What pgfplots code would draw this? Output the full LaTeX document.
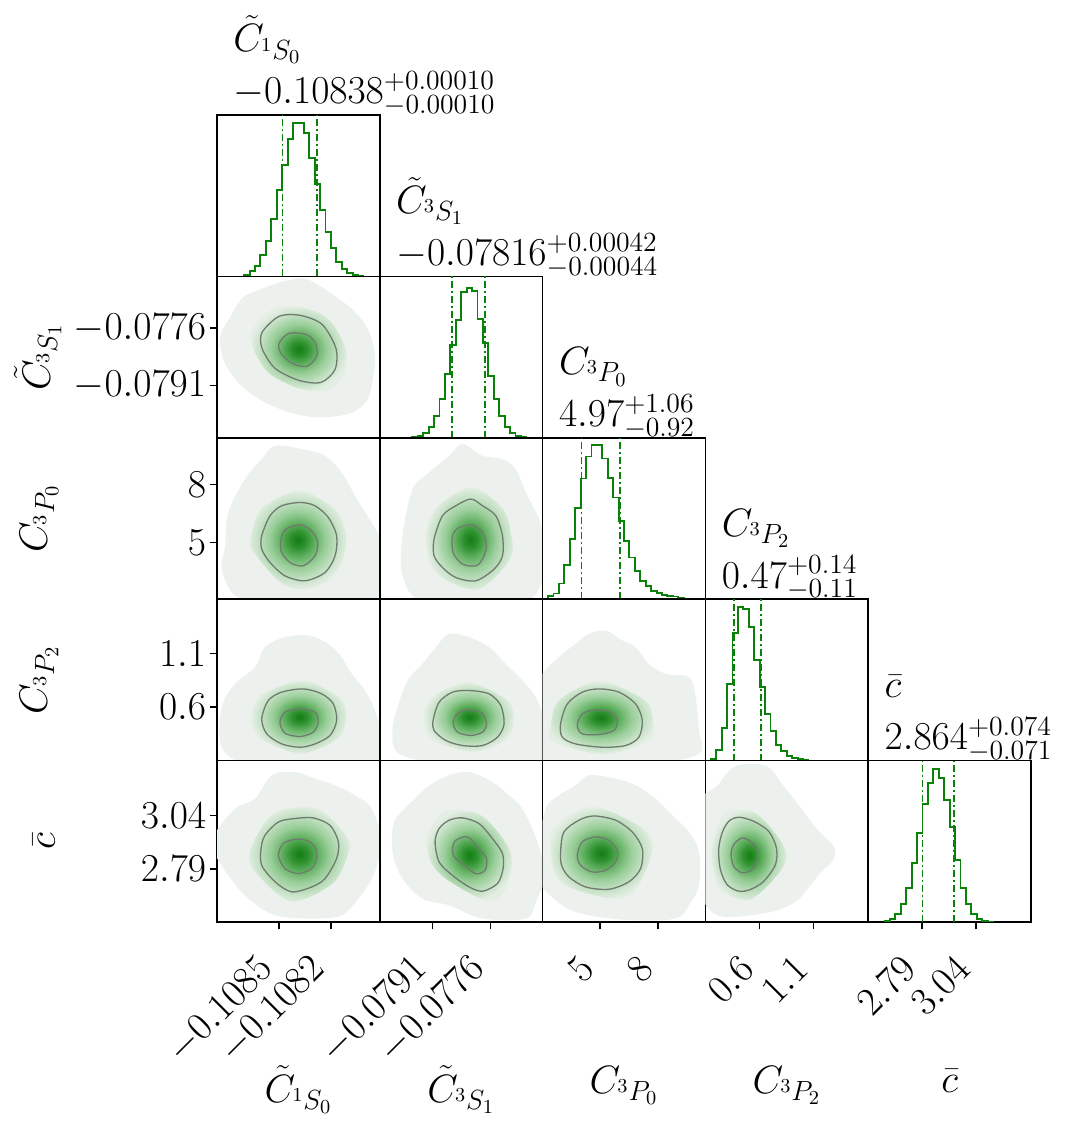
\documentclass[border=0pt]{standalone}
\usepackage{fix-cm}
\usepackage{pgfplots}
\pgfplotsset{compat=1.18}

\definecolor{histgreen}{RGB}{10,130,10}
\definecolor{cloudc}{RGB}{237,241,237}
\definecolor{contourgrey}{RGB}{112,122,112}
\definecolor{kd0}{RGB}{20,125,20}
\definecolor{kd1}{RGB}{45,145,45}
\definecolor{kd2}{RGB}{100,178,100}
\definecolor{kd3}{RGB}{152,205,152}
\definecolor{kd4}{RGB}{196,225,196}
\definecolor{kd5}{RGB}{228,238,228}
\pgfdeclareradialshading{kde}{\pgfpoint{0bp}{0bp}}{color(0bp)=(kd0); color(4bp)=(kd1); color(9bp)=(kd2); color(14bp)=(kd3); color(20bp)=(kd4); color(25bp)=(kd5); color(50bp)=(kd5)}

\newcommand\lab{\fontsize{19.8}{23}\selectfont}

\pgfplotsset{
  panel/.style={
    width=81.4pt, height=80.7pt, scale only axis, anchor=south west,
    axis line style={line width=0.8pt},
    tick style={black, line width=0.8pt},
    major tick length=3.75pt, tick align=outside,
    xtick=\empty, ytick=\empty,
    xtick pos=left, ytick pos=left,
    scaled x ticks=false, scaled y ticks=false,
    tick label style={font=\lab},
    xticklabel style={xshift=-6pt, yshift=-16.5pt, rotate=45, anchor=east, inner sep=0pt},
    yticklabel style={xshift=-1.5pt, inner sep=0pt},
  },
  hpanel/.style={panel, ymin=0, ymax=161.4},
  cloud/.style={draw=none, fill=cloudc, smooth cycle, tension=0.55},
  halo/.style={draw=none, shade, shading=kde, smooth cycle},
  cline/.style={draw=contourgrey, line width=0.65pt, smooth cycle},
  hist/.style={const plot, color=histgreen, line width=0.95pt},
  qline/.style={histgreen, draw=histgreen, line width=0.8pt, dash pattern=on 3.5pt off 1.5pt on 1pt off 1.5pt},
  ttl/.style 2 args={after end axis/.append code={
    \path (rel axis cs:0,1) ++(8pt,31.5pt) node[anchor=base west,inner sep=0pt,font=\lab]{#1};
    \path (rel axis cs:0,1) ++(8pt,5.5pt) node[anchor=base west,inner sep=0pt,font=\lab]{#2};}},
  xlab/.style 2 args={after end axis/.append code={
    \path (rel axis cs:0.5,0) ++(0,-#2) node[anchor=base,inner sep=0pt,font=\lab]{#1};}},
  ylab/.style 2 args={after end axis/.append code={
    \path (rel axis cs:0,0.5) ++(-#2,0) node[rotate=90,anchor=base,inner sep=0pt,font=\lab]{#1};}},
}

% parameter ranges
\def\Aa{-0.108858}\def\Ab{-0.107919}
\def\Ba{-0.08047}\def\Bb{-0.07625}
\def\Ca{2.06}\def\Cb{10.43}
\def\Da{0.097}\def\Db{1.606}
\def\Ea{2.541}\def\Eb{3.296}

\begin{document}
\begin{tikzpicture}
\useasboundingbox (0,0) rectangle (533pt,563.5pt);

% ---------------- row 1 ----------------
\begin{axis}[hpanel, at={(108.5pt,425.3pt)}, xmin=\Aa, xmax=\Ab,
  ttl={$\tilde{C}_{{}^1S_0}$}{$-0.10838^{+0.00010}_{-0.00010}$}]
\addplot[qline] coordinates {(-0.10848,0) (-0.10848,161.4)};
\addplot[qline] coordinates {(-0.10828,0) (-0.10828,161.4)};
\addplot[hist] coordinates {(-0.1087015,0) (-0.1087015,1.3) (-0.1086702,5.3) (-0.1086389,10.3) (-0.1086076,21) (-0.1085763,35.3) (-0.108545,57) (-0.1085137,86) (-0.1084824,111) (-0.1084511,137.3) (-0.1084198,153.7) (-0.1083885,153.3) (-0.1083572,143.3) (-0.1083259,118.3) (-0.1082946,92) (-0.1082633,66.7) (-0.108232,44.3) (-0.1082007,28.7) (-0.1081694,14.3) (-0.1081381,7.7) (-0.1081068,3.3) (-0.1080755,1.3) (-0.1080442,0.3) (-0.1080129,0)};
\end{axis}

% ---------------- row 2 ----------------
\begin{axis}[panel, at={(108.5pt,344.6pt)}, xmin=\Aa, xmax=\Ab, ymin=\Ba, ymax=\Bb,
  ytick={-0.0791,-0.0776}, yticklabels={$-0.0791$,$-0.0776$},
  ylab={$\tilde{C}_{{}^3S_1}$}{83.5pt}]
\addplot[cloud] coordinates {(-0.108783,-0.077322) (-0.108708,-0.076799) (-0.108593,-0.076564) (-0.108454,-0.076355) (-0.108322,-0.076355) (-0.108091,-0.077060) (-0.107993,-0.077583) (-0.107947,-0.078263) (-0.107958,-0.078890) (-0.107993,-0.079491) (-0.108091,-0.079831) (-0.108264,-0.079936) (-0.108420,-0.079831) (-0.108570,-0.079570) (-0.108708,-0.079152) (-0.108812,-0.078524) (-0.108841,-0.077845)};
\addplot[halo] coordinates {(-0.108650,-0.077609) (-0.108529,-0.077086) (-0.108376,-0.077060) (-0.108218,-0.077348) (-0.108117,-0.078132) (-0.108125,-0.078812) (-0.108224,-0.079243) (-0.108385,-0.079178) (-0.108558,-0.078786) (-0.108650,-0.078132)};
\addplot[cline] coordinates {(-0.108598,-0.077714) (-0.108500,-0.077296) (-0.108379,-0.077269) (-0.108252,-0.077505) (-0.108172,-0.078132) (-0.108177,-0.078681) (-0.108258,-0.079021) (-0.108385,-0.078969) (-0.108523,-0.078655) (-0.108598,-0.078132)};
\addplot[cline] coordinates {(-0.108500,-0.078001) (-0.108443,-0.077740) (-0.108345,-0.077766) (-0.108293,-0.077975) (-0.108281,-0.078315) (-0.108339,-0.078603) (-0.108425,-0.078524) (-0.108489,-0.078263)};
\end{axis}

\begin{axis}[hpanel, at={(189.9pt,344.6pt)}, xmin=\Ba, xmax=\Bb,
  ttl={$\tilde{C}_{{}^3S_1}$}{$-0.07816^{+0.00042}_{-0.00044}$}]
\addplot[qline] coordinates {(-0.07860,0) (-0.07860,161.4)};
\addplot[qline] coordinates {(-0.07774,0) (-0.07774,161.4)};
\addplot[hist] coordinates {(-0.0796258,0) (-0.0796258,0.7) (-0.0794851,1.9) (-0.0793444,4.8) (-0.0792037,10.7) (-0.079063,21.6) (-0.0789223,39) (-0.0787816,64) (-0.0786409,93) (-0.0785002,118) (-0.0783595,146) (-0.0782188,150) (-0.0780781,147) (-0.0779374,119) (-0.0777967,95) (-0.077656,62) (-0.0775153,39) (-0.0773746,21.6) (-0.0772339,10.7) (-0.0770932,4.8) (-0.0769525,1.9) (-0.0768118,0.7) (-0.0766711,0)};
\end{axis}

% ---------------- row 3 ----------------
\begin{axis}[panel, at={(108.5pt,263.9pt)}, xmin=\Aa, xmax=\Ab, ymin=\Ca, ymax=\Cb,
  ytick={5,8}, yticklabels={$5$,$8$},
  ylab={$C_{{}^3P_0}$}{85pt}]
\addplot[cloud] coordinates {(-0.108812,4.829) (-0.108793,6.556) (-0.108697,8.288) (-0.108600,9.325) (-0.108523,10.015) (-0.108369,9.844) (-0.108235,9.497) (-0.108139,8.630) (-0.108062,7.422) (-0.107966,6.037) (-0.107906,5.000) (-0.107906,3.621) (-0.107935,1.873) (-0.108293,1.873) (-0.108581,1.873) (-0.108754,2.236) (-0.108831,3.621)};
\addplot[halo] coordinates {(-0.108656,5.503) (-0.108598,6.800) (-0.108379,7.681) (-0.108177,6.696) (-0.108114,5.503) (-0.108128,4.207) (-0.108200,3.118) (-0.108345,2.599) (-0.108489,2.910) (-0.108656,4.642)};
\addplot[cline] coordinates {(-0.108600,5.348) (-0.108552,6.385) (-0.108485,6.904) (-0.108379,7.075) (-0.108293,6.904) (-0.108216,6.297) (-0.108168,5.348) (-0.108177,4.311) (-0.108235,3.444) (-0.108350,3.014) (-0.108466,3.273) (-0.108552,3.963) (-0.108600,4.658)};
\addplot[cline] coordinates {(-0.108485,5.348) (-0.108456,5.726) (-0.108379,5.918) (-0.108312,5.607) (-0.108277,5.000) (-0.108293,4.311) (-0.108360,3.792) (-0.108437,3.963) (-0.108489,4.570)};
\end{axis}

\begin{axis}[panel, at={(189.9pt,263.9pt)}, xmin=\Ba, xmax=\Bb, ymin=\Ca, ymax=\Cb]
\addplot[cloud] coordinates {(-0.079882,5.348) (-0.079622,7.770) (-0.079192,8.630) (-0.078674,9.497) (-0.078326,10.103) (-0.077808,9.497) (-0.077290,9.325) (-0.076945,8.807) (-0.076686,7.593) (-0.076341,6.214) (-0.076193,4.829) (-0.076193,3.273) (-0.076686,1.873) (-0.077808,1.873) (-0.079363,1.873) (-0.079882,3.273)};
\addplot[halo] coordinates {(-0.079288,5.265) (-0.079018,6.774) (-0.078098,7.858) (-0.077287,6.774) (-0.077074,5.477) (-0.077074,4.181) (-0.077935,2.558) (-0.079018,3.429)};
\addplot[cline] coordinates {(-0.079063,5.177) (-0.078845,6.385) (-0.078500,6.904) (-0.078111,7.251) (-0.077808,6.904) (-0.077463,6.385) (-0.077290,5.348) (-0.077290,4.311) (-0.077507,3.621) (-0.077982,3.014) (-0.078500,3.185) (-0.078845,3.704) (-0.079063,4.311)};
\addplot[cline] coordinates {(-0.078586,5.348) (-0.078415,5.778) (-0.078067,5.903) (-0.077808,5.519) (-0.077704,4.829) (-0.077808,4.139) (-0.077982,3.792) (-0.078326,3.880) (-0.078570,4.482)};
\end{axis}

\begin{axis}[hpanel, at={(271.3pt,263.9pt)}, xmin=\Ca, xmax=\Cb,
  ttl={$C_{{}^3P_0}$}{$4.97^{+1.06}_{-0.92}$}]
\addplot[qline] coordinates {(4.05,0) (4.05,161.4)};
\addplot[qline] coordinates {(6.03,0) (6.03,161.4)};
\addplot[hist] coordinates {(2.339,0) (2.339,3.3) (2.618,5.7) (2.897,15.7) (3.176,34) (3.455,60) (3.734,91.3) (4.013,120.7) (4.292,142.7) (4.571,154) (4.85,154.3) (5.129,140.7) (5.408,121) (5.687,101.7) (5.966,78.3) (6.245,58.3) (6.524,41.7) (6.803,28.3) (7.082,18.3) (7.361,13.3) (7.64,8.3) (7.919,6) (8.198,4.3) (8.477,3.3) (8.756,2.7) (9.035,1.7) (9.314,0)};
\end{axis}

% ---------------- row 4 ----------------
\begin{axis}[panel, at={(108.5pt,183.2pt)}, xmin=\Aa, xmax=\Ab, ymin=\Da, ymax=\Db,
  ytick={0.6,1.1}, yticklabels={$0.6$,$1.1$},
  ylab={$C_{{}^3P_2}$}{85pt}]
\addplot[cloud] coordinates {(-0.108831,0.596) (-0.108754,0.814) (-0.108639,0.970) (-0.108581,1.157) (-0.108466,1.251) (-0.108331,1.267) (-0.108216,1.188) (-0.108139,1.064) (-0.108081,0.908) (-0.108004,0.752) (-0.107947,0.565) (-0.107906,0.316) (-0.107935,0.063) (-0.108293,0.063) (-0.108678,0.063) (-0.108831,0.222)};
\addplot[halo] coordinates {(-0.108656,0.493) (-0.108608,0.708) (-0.108356,0.843) (-0.108139,0.667) (-0.108115,0.474) (-0.108163,0.298) (-0.108379,0.162) (-0.108619,0.317)};
\addplot[cline] coordinates {(-0.108600,0.487) (-0.108562,0.659) (-0.108485,0.737) (-0.108360,0.767) (-0.108254,0.721) (-0.108187,0.627) (-0.108168,0.472) (-0.108206,0.332) (-0.108293,0.253) (-0.108379,0.222) (-0.108485,0.253) (-0.108571,0.347)};
\addplot[cline] coordinates {(-0.108495,0.456) (-0.108466,0.550) (-0.108379,0.580) (-0.108293,0.550) (-0.108274,0.456) (-0.108303,0.363) (-0.108379,0.322) (-0.108466,0.353)};
\end{axis}

\begin{axis}[panel, at={(189.9pt,183.2pt)}, xmin=\Ba, xmax=\Bb, ymin=\Da, ymax=\Db]
\addplot[cloud] coordinates {(-0.080011,0.596) (-0.079752,0.846) (-0.079363,1.001) (-0.079018,1.157) (-0.078674,1.282) (-0.078155,1.251) (-0.077637,1.157) (-0.077204,1.001) (-0.076771,0.846) (-0.076426,0.690) (-0.076193,0.440) (-0.076193,0.063) (-0.078674,0.063) (-0.079970,0.160) (-0.080141,0.378)};
\addplot[halo] coordinates {(-0.079319,0.474) (-0.079125,0.688) (-0.078153,0.824) (-0.077126,0.649) (-0.077020,0.434) (-0.077233,0.278) (-0.078065,0.181) (-0.079104,0.290)};
\addplot[cline] coordinates {(-0.079088,0.472) (-0.078933,0.643) (-0.078586,0.737) (-0.078155,0.752) (-0.077637,0.721) (-0.077334,0.612) (-0.077248,0.440) (-0.077419,0.316) (-0.077808,0.238) (-0.078326,0.238) (-0.078759,0.285) (-0.079063,0.378)};
\addplot[cline] coordinates {(-0.078570,0.456) (-0.078415,0.550) (-0.078111,0.571) (-0.077808,0.534) (-0.077704,0.440) (-0.077808,0.363) (-0.078111,0.332) (-0.078456,0.363)};
\end{axis}

\begin{axis}[panel, at={(271.3pt,183.2pt)}, xmin=\Ca, xmax=\Cb, ymin=\Da, ymax=\Db]
\addplot[cloud] coordinates {(1.906,0.846) (2.898,1.064) (3.757,1.188) (4.440,1.282) (5.299,1.313) (6.157,1.220) (6.841,1.157) (7.525,1.001) (8.383,0.908) (9.581,0.877) (9.926,0.690) (10.095,0.378) (10.095,0.160) (7.525,0.063) (4.101,0.063) (1.906,0.063) (1.906,0.378)};
\addplot[halo] coordinates {(2.482,0.429) (2.913,0.663) (4.944,0.838) (7.304,0.663) (7.736,0.469) (7.515,0.274) (5.165,0.157) (2.595,0.274)};
\addplot[cline] coordinates {(2.985,0.440) (3.330,0.627) (4.101,0.737) (4.954,0.767) (5.983,0.737) (6.841,0.627) (7.186,0.472) (7.011,0.316) (6.327,0.238) (5.129,0.222) (3.757,0.253) (3.073,0.316)};
\addplot[cline] coordinates {(3.844,0.425) (4.101,0.534) (4.785,0.571) (5.556,0.550) (5.900,0.472) (5.726,0.378) (4.954,0.341) (4.101,0.347)};
\end{axis}

\begin{axis}[hpanel, at={(352.7pt,183.2pt)}, xmin=\Da, xmax=\Db,
  ttl={$C_{{}^3P_2}$}{$0.47^{+0.14}_{-0.11}$}]
\addplot[qline] coordinates {(0.36,0) (0.36,161.4)};
\addplot[qline] coordinates {(0.61,0) (0.61,161.4)};
\addplot[hist] coordinates {(0.1473,0) (0.1473,1.7) (0.1976,11) (0.2479,32.7) (0.2982,76.7) (0.3485,127.7) (0.3988,153.7) (0.4491,152) (0.4994,133.7) (0.5497,101) (0.6,73.3) (0.6503,47) (0.7006,29.3) (0.7509,16) (0.8012,9.3) (0.8515,4.3) (0.9018,2.7) (0.9521,1.3) (1.0024,0.3) (1.0527,0)};
\end{axis}

% ---------------- row 5 ----------------
\begin{axis}[panel, at={(108.5pt,102.5pt)}, xmin=\Aa, xmax=\Ab, ymin=\Ea, ymax=\Eb,
  ytick={2.79,3.04}, yticklabels={$2.79$,$3.04$},
  xtick={-0.1085,-0.1082}, xticklabels={$-0.1085$,$-0.1082$},
  ylab={$\bar{c}$}{81pt}, xlab={$\tilde{C}_{{}^1S_0}$}{90pt}]
\addplot[cloud] coordinates {(-0.108875,2.947) (-0.108754,3.071) (-0.108639,3.118) (-0.108542,3.227) (-0.108408,3.243) (-0.108293,3.212) (-0.108177,3.180) (-0.108062,3.134) (-0.107966,3.071) (-0.107906,2.916) (-0.107956,2.759) (-0.108043,2.650) (-0.108139,2.572) (-0.108312,2.557) (-0.108523,2.572) (-0.108678,2.650) (-0.108793,2.759) (-0.108875,2.869)};
\addplot[halo] coordinates {(-0.108659,2.891) (-0.108534,3.048) (-0.108282,3.071) (-0.108102,2.931) (-0.108113,2.833) (-0.108198,2.716) (-0.108438,2.638) (-0.108654,2.794)};
\addplot[cline] coordinates {(-0.108604,2.884) (-0.108581,2.947) (-0.108504,3.009) (-0.108408,3.025) (-0.108303,3.028) (-0.108206,2.993) (-0.108158,2.916) (-0.108168,2.838) (-0.108235,2.744) (-0.108312,2.705) (-0.108427,2.682) (-0.108523,2.729) (-0.108600,2.806)};
\addplot[cline] coordinates {(-0.108504,2.853) (-0.108476,2.908) (-0.108408,2.928) (-0.108341,2.923) (-0.108293,2.892) (-0.108283,2.838) (-0.108312,2.791) (-0.108389,2.767) (-0.108466,2.791)};
\end{axis}

\begin{axis}[panel, at={(189.9pt,102.5pt)}, xmin=\Ba, xmax=\Bb, ymin=\Ea, ymax=\Eb,
  xtick={-0.0791,-0.0776}, xticklabels={$-0.0791$,$-0.0776$},
  xlab={$\tilde{C}_{{}^3S_1}$}{90pt}]
\addplot[cloud] coordinates {(-0.080141,2.869) (-0.080081,3.015) (-0.079563,3.118) (-0.079192,3.180) (-0.078674,3.227) (-0.078155,3.243) (-0.077549,3.196) (-0.077119,3.134) (-0.076771,3.071) (-0.076382,2.916) (-0.076193,2.759) (-0.076426,2.635) (-0.076686,2.557) (-0.077808,2.557) (-0.078674,2.619) (-0.079363,2.650) (-0.079882,2.744)};
\addplot[halo] coordinates {(-0.079254,2.931) (-0.078801,3.057) (-0.077829,3.038) (-0.077072,2.862) (-0.077233,2.686) (-0.077720,2.642) (-0.078692,2.735) (-0.079125,2.814)};
\addplot[cline] coordinates {(-0.079037,2.916) (-0.078933,2.978) (-0.078674,3.017) (-0.078326,3.028) (-0.077896,3.001) (-0.077549,2.931) (-0.077290,2.861) (-0.077274,2.791) (-0.077419,2.721) (-0.077808,2.685) (-0.078155,2.705) (-0.078586,2.759) (-0.078933,2.822)};
\addplot[cline] coordinates {(-0.078586,2.884) (-0.078500,2.923) (-0.078197,2.939) (-0.077896,2.884) (-0.077704,2.838) (-0.077741,2.783) (-0.077982,2.767) (-0.078285,2.806) (-0.078544,2.846)};
\end{axis}

\begin{axis}[panel, at={(271.3pt,102.5pt)}, xmin=\Ca, xmax=\Cb, ymin=\Ea, ymax=\Eb,
  xtick={5,8}, xticklabels={$5$,$8$},
  xlab={$C_{{}^3P_0}$}{85.5pt}]
\addplot[cloud] coordinates {(2.214,3.071) (2.898,3.134) (3.757,3.180) (4.440,3.227) (5.813,3.212) (6.841,3.180) (7.869,3.118) (8.728,3.040) (9.581,2.962) (10.095,2.869) (10.095,2.713) (9.581,2.619) (8.898,2.557) (6.671,2.549) (4.440,2.572) (3.073,2.619) (1.906,2.729) (1.906,2.900)};
\addplot[halo] coordinates {(2.471,2.870) (2.682,2.987) (4.610,3.080) (7.078,2.987) (7.720,2.889) (6.862,2.694) (5.576,2.651) (3.006,2.723)};
\addplot[cline] coordinates {(2.985,2.869) (3.155,2.962) (3.926,3.017) (4.697,3.037) (5.813,3.017) (6.671,2.962) (7.186,2.884) (7.098,2.791) (6.497,2.729) (5.468,2.694) (4.271,2.705) (3.412,2.752) (3.037,2.806)};
\addplot[cline] coordinates {(3.844,2.853) (4.101,2.916) (4.785,2.939) (5.468,2.923) (5.900,2.876) (5.813,2.822) (5.299,2.783) (4.615,2.775) (4.014,2.806)};
\end{axis}

\begin{axis}[panel, at={(352.7pt,102.5pt)}, xmin=\Da, xmax=\Db, ymin=\Ea, ymax=\Eb,
  xtick={0.6,1.1}, xticklabels={$0.6$,$1.1$},
  xlab={$C_{{}^3P_2}$}{85.5pt}]
\addplot[cloud] coordinates {(0.069,3.114) (0.205,3.176) (0.298,3.238) (0.421,3.277) (0.669,3.269) (0.823,3.176) (0.947,3.098) (1.040,3.035) (1.163,2.958) (1.286,2.895) (1.286,2.833) (1.163,2.771) (1.040,2.693) (0.915,2.630) (0.669,2.584) (0.236,2.568) (0.069,2.661) (0.069,2.880)};
\addplot[halo] coordinates {(0.158,2.883) (0.274,3.049) (0.564,3.049) (0.827,2.893) (0.815,2.795) (0.526,2.649) (0.256,2.679) (0.178,2.766)};
\addplot[cline] coordinates {(0.220,2.880) (0.252,2.958) (0.313,3.012) (0.406,3.031) (0.545,3.012) (0.684,2.965) (0.755,2.888) (0.746,2.809) (0.637,2.731) (0.514,2.693) (0.406,2.685) (0.298,2.716) (0.236,2.786)};
\addplot[cline] coordinates {(0.335,2.856) (0.359,2.903) (0.437,2.934) (0.514,2.918) (0.576,2.880) (0.576,2.833) (0.530,2.786) (0.437,2.771) (0.359,2.802)};
\end{axis}

\begin{axis}[hpanel, at={(434.1pt,102.5pt)}, xmin=\Ea, xmax=\Eb,
  xtick={2.79,3.04}, xticklabels={$2.79$,$3.04$},
  xlab={$\bar{c}$}{85pt},
  ttl={$\bar{c}$}{$2.864^{+0.074}_{-0.071}$}]
\addplot[qline] coordinates {(2.793,0) (2.793,161.4)};
\addplot[qline] coordinates {(2.938,0) (2.938,161.4)};
\addplot[hist] coordinates {(2.6165,0) (2.6165,1.2) (2.6417,3.3) (2.6668,8.2) (2.692,17.8) (2.7172,34) (2.7423,59) (2.7675,89) (2.7927,118) (2.8178,139) (2.843,153) (2.8682,144) (2.8933,122) (2.9185,95) (2.9437,62) (2.9688,34) (2.994,17.8) (3.0192,8.2) (3.0443,3.3) (3.0695,1.2) (3.0947,0.4) (3.1198,0)};
\end{axis}
\end{tikzpicture}
\end{document}
